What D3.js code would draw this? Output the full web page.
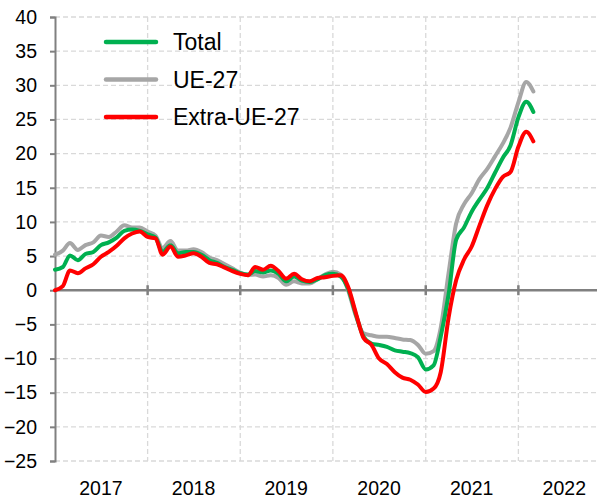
<!DOCTYPE html>
<html>
<head>
<meta charset="utf-8">
<script src="https://cdn.jsdelivr.net/npm/d3@7"></script>
<style>
  html, body { margin: 0; padding: 0; background: #fff; overflow: hidden; }
  svg { display: block; font-family: Arial, "Liberation Sans", sans-serif; }
</style>
</head>
<body>
<svg id="chart" width="597" height="499"></svg>
<script>
// DATA - monthly values, starting January 2017
const startMonth = new Date(2017, 0, 1);
const years = ["2017", "2018", "2019", "2020", "2021", "2022"];
const yTicks = [-25, -20, -15, -10, -5, 0, 5, 10, 15, 20, 25, 30, 35, 40];

const total = [
  3.0, 3.4, 5.1, 4.4, 5.3, 5.6, 6.6, 7.0, 7.7, 8.7, 8.9, 8.7,
  8.2, 7.7, 5.6, 6.6, 5.4, 5.6, 5.6, 5.2, 4.4, 4.0, 3.4, 3.0,
  2.5, 2.3, 2.8, 2.6, 2.9, 2.4, 1.3, 2.0, 1.4, 1.2, 1.6, 2.2,
  2.4, 2.0, 0.2, -3.6, -6.8, -7.8, -8.0, -8.3, -8.8, -9.0, -9.2, -9.8,
  -11.6, -11.0, -6.8, -0.6, 7.4, 9.2, 11.5, 13.3, 15.0, 17.2, 19.4, 21.2,
  25.3, 27.6, 26.1
];
const ue27 = [
  5.2, 5.8, 6.9, 5.9, 6.6, 7.0, 8.0, 7.8, 8.6, 9.5, 9.2, 9.2,
  8.6, 8.0, 6.2, 7.2, 5.8, 5.8, 6.0, 5.6, 4.8, 4.4, 3.8, 3.2,
  2.6, 2.2, 2.3, 2.0, 2.2, 1.8, 0.8, 1.3, 1.0, 1.0, 1.6, 2.3,
  2.7, 2.3, 0.0, -3.8, -6.3, -6.6, -6.8, -6.8, -7.0, -7.2, -7.3, -8.0,
  -9.3, -8.9, -5.5, 2.5, 9.8, 12.6, 14.2, 16.3, 17.8, 19.6, 21.5, 23.8,
  27.5, 30.5, 29.1
];
const extraUe27 = [
  0.0, 0.6, 2.9, 2.5, 3.2, 3.8, 4.9, 5.6, 6.5, 7.6, 8.3, 8.6,
  7.8, 7.6, 5.2, 6.4, 4.9, 5.1, 5.4, 4.9, 4.0, 3.8, 3.3, 2.8,
  2.4, 2.2, 3.4, 3.0, 3.6, 2.8, 1.7, 2.4, 1.6, 1.3, 1.8, 1.9,
  2.1, 2.2, 0.5, -3.4, -7.0, -8.0, -10.0, -10.8, -12.0, -12.8, -13.1, -13.8,
  -14.9, -14.4, -12.0, -4.0, 1.5, 4.5, 6.4, 9.5, 12.5, 14.8, 16.6, 17.3,
  21.0, 23.2, 21.8
];

const series = [
  { name: "Total", values: total, color: "#00b050" },
  { name: "UE-27", values: ue27, color: "#a6a6a6" },
  { name: "Extra-UE-27", values: extraUe27, color: "#ff0000" }
];
// drawing order: grey below, then green, red on top
const drawOrder = [1, 0, 2];

const svg = d3.select("#chart");
const margin = { left: 55, top: 17, bottom: 38 };
const svgH = +svg.attr("height");

const x = d3.scaleTime()
  .domain([startMonth, new Date(2023, 0, 1)])
  .range([margin.left, 611]);
const y = d3.scaleLinear()
  .domain([-25, 40])
  .range([svgH - margin.bottom, margin.top]);

const monthDate = i => d3.timeMonth.offset(startMonth, i);
const yearStarts = years.map(yr => new Date(+yr, 0, 1));

// horizontal gridlines
svg.append("g")
  .selectAll("line")
  .data(yTicks.filter(d => d !== 0))
  .join("line")
  .attr("x1", x.range()[0]).attr("x2", 597)
  .attr("y1", d => y(d)).attr("y2", d => y(d))
  .attr("stroke", "#d9d9d9")
  .attr("stroke-width", 1.3)
  .attr("stroke-dasharray", "5,3");

// vertical gridlines at year boundaries
svg.append("g")
  .selectAll("line")
  .data(yearStarts.slice(1))
  .join("line")
  .attr("x1", d => x(d)).attr("x2", d => x(d))
  .attr("y1", y(40)).attr("y2", y(-25))
  .attr("stroke", "#d9d9d9")
  .attr("stroke-width", 1.3)
  .attr("stroke-dasharray", "5,3");

// Y axis
const yAxis = d3.axisLeft(y).tickValues(yTicks).tickSize(5).tickPadding(13);
const gy = svg.append("g")
  .attr("transform", `translate(${margin.left},0)`)
  .call(yAxis);
gy.select(".domain").attr("stroke", "#808080").attr("stroke-width", 2);
gy.selectAll(".tick line").attr("stroke", "#808080").attr("stroke-width", 2);
gy.selectAll(".tick text")
  .attr("fill", "#000")
  .style("font-size", "19.5px");

// zero line with year tick marks
svg.append("line")
  .attr("x1", margin.left).attr("x2", 597)
  .attr("y1", y(0)).attr("y2", y(0))
  .attr("stroke", "#808080")
  .attr("stroke-width", 2.5);
svg.append("g")
  .selectAll("line")
  .data(yearStarts.slice(1))
  .join("line")
  .attr("x1", d => x(d)).attr("x2", d => x(d))
  .attr("y1", y(0) - 5).attr("y2", y(0) + 5)
  .attr("stroke", "#808080")
  .attr("stroke-width", 2.5);

// year labels centred in each year
svg.append("g")
  .selectAll("text")
  .data(years)
  .join("text")
  .attr("x", d => x(new Date(+d, 6, 1)))
  .attr("y", 495)
  .attr("text-anchor", "middle")
  .style("font-size", "19.5px")
  .text(d => d);

// lines
const line = d3.line()
  .x((d, i) => x(monthDate(i)))
  .y(d => y(d))
  .curve(d3.curveMonotoneX);

drawOrder.forEach(k => {
  svg.append("path")
    .datum(series[k].values)
    .attr("fill", "none")
    .attr("stroke", series[k].color)
    .attr("stroke-width", 4)
    .attr("stroke-linejoin", "round")
    .attr("stroke-linecap", "round")
    .attr("d", line);
});

// legend
const legend = svg.append("g");
series.forEach((s, i) => {
  const ly = 42 + i * 37.5;
  legend.append("line")
    .attr("x1", 106).attr("x2", 156)
    .attr("y1", ly).attr("y2", ly)
    .attr("stroke", s.color)
    .attr("stroke-width", 4.5)
    .attr("stroke-linecap", "round");
  legend.append("text")
    .attr("x", 173)
    .attr("y", ly + 8)
    .style("font-size", "23px")
    .text(s.name);
});
</script>
</body>
</html>
